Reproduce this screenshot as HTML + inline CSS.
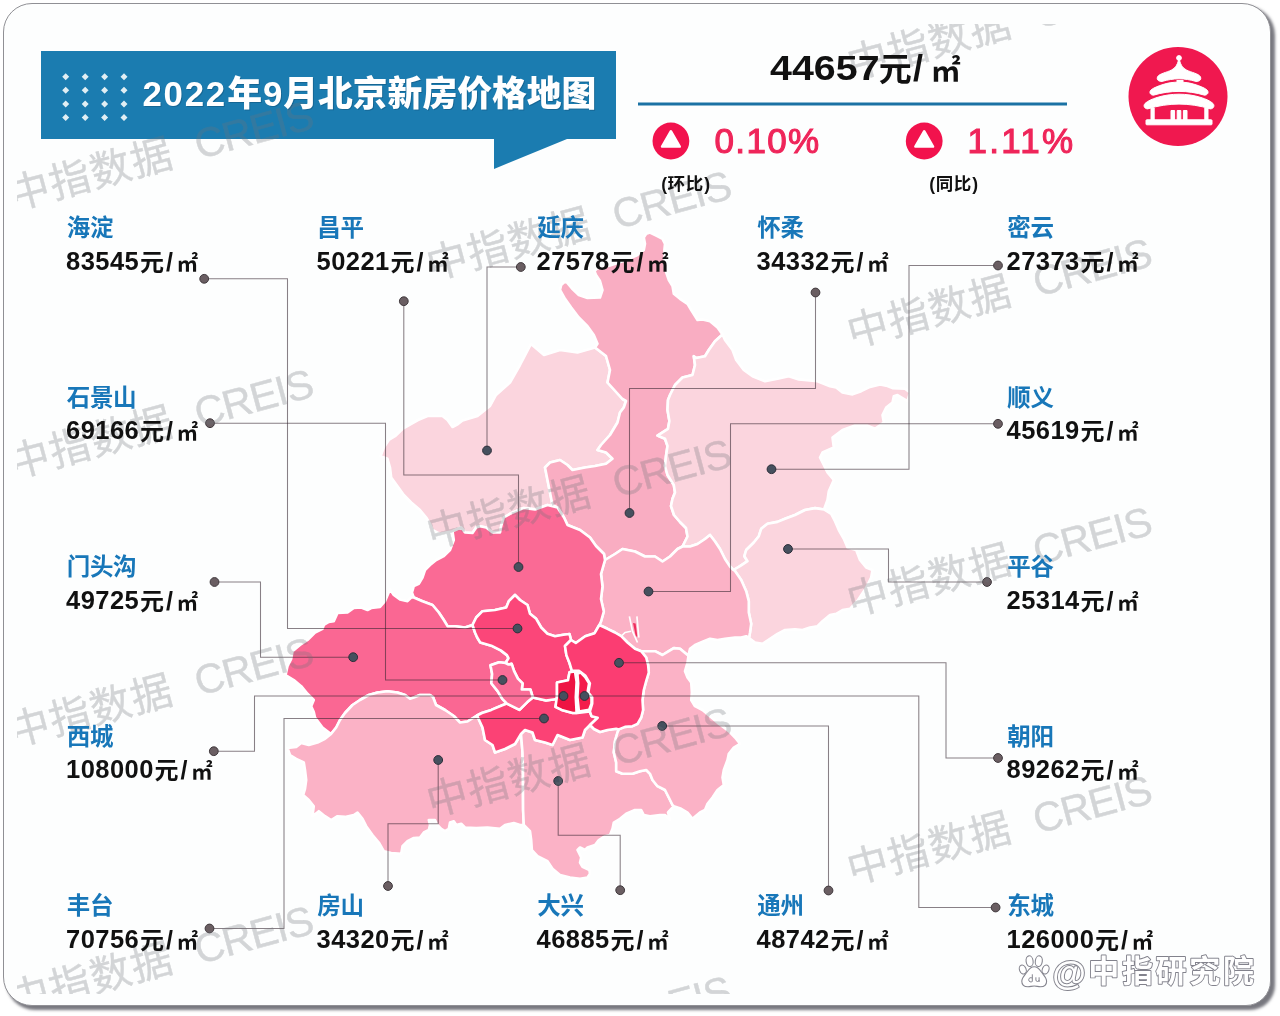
<!DOCTYPE html>
<html lang="zh"><head><meta charset="utf-8"><title>2022年9月北京新房价格地图</title>
<style>
html,body{margin:0;padding:0;background:#fff}
body{width:1280px;height:1016px;position:relative;overflow:hidden;font-family:"Liberation Sans",sans-serif}
.card{position:absolute;left:3.3px;top:3.2px;width:1267.5px;height:1003px;box-sizing:border-box;border:1.5px solid #909095;border-radius:29px 29px 25px 29px;background:#fdfefe;box-shadow:3.6px 3.6px 3px rgba(62,62,72,.7)}
svg.layer{position:absolute;left:0;top:0;width:1280px;height:1016px;overflow:hidden}
svg.layer text{font-family:"Liberation Sans","Noto Sans CJK SC",sans-serif}
.clip{position:absolute;left:16.5px;top:23.5px;width:1247px;height:970.5px;overflow:hidden}
.clip svg.layer{left:-16.5px;top:-23.5px}
.sr{position:absolute;width:1px;height:1px;margin:-1px;padding:0;overflow:hidden;clip:rect(0 0 0 0);white-space:nowrap;border:0;color:transparent}
.soft{position:absolute;left:0;top:0;width:1280px;height:1016px;filter:blur(.45px)}
.pr,.sl,.avg,.pct{position:absolute;white-space:nowrap;font-weight:700;color:#111;line-height:1}
.pr{font-size:25.5px;letter-spacing:.45px}
.sl{font-size:25px}
.avg{font-size:34.5px;letter-spacing:0;transform:scaleX(1.142);transform-origin:0 0}
.pct{font-size:35px;font-weight:400;color:#ef255a;letter-spacing:.9px;-webkit-text-stroke:1.1px #ef255a}
</style></head><body>
<div class="card"></div>
<h1 class="sr">2022年9月北京新房价格地图</h1>
<div class="soft">
<svg class="layer" viewBox="0 0 1280 1016" role="img" aria-label="北京各区新房价格地图"><path d="M41 51H616V139H567L494 169V139H41Z" fill="#1b7cb0"/>
<path d="M65.7 73.3l3.5 3.5l-3.5 3.5l-3.5 -3.5zM85.2 73.3l3.5 3.5l-3.5 3.5l-3.5 -3.5zM104.6 73.3l3.5 3.5l-3.5 3.5l-3.5 -3.5zM124 73.3l3.5 3.5l-3.5 3.5l-3.5 -3.5zM65.7 86.8l3.5 3.5l-3.5 3.5l-3.5 -3.5zM85.2 86.8l3.5 3.5l-3.5 3.5l-3.5 -3.5zM104.6 86.8l3.5 3.5l-3.5 3.5l-3.5 -3.5zM124 86.8l3.5 3.5l-3.5 3.5l-3.5 -3.5zM65.7 100.4l3.5 3.5l-3.5 3.5l-3.5 -3.5zM85.2 100.4l3.5 3.5l-3.5 3.5l-3.5 -3.5zM104.6 100.4l3.5 3.5l-3.5 3.5l-3.5 -3.5zM124 100.4l3.5 3.5l-3.5 3.5l-3.5 -3.5zM65.7 114l3.5 3.5l-3.5 3.5l-3.5 -3.5zM85.2 114l3.5 3.5l-3.5 3.5l-3.5 -3.5zM104.6 114l3.5 3.5l-3.5 3.5l-3.5 -3.5zM124 114l3.5 3.5l-3.5 3.5l-3.5 -3.5z" fill="#e0eef4"/>
<rect x="638" y="102.5" width="429" height="3" fill="#1b72a4"/>
<g stroke="#fff" stroke-width="2.6" stroke-linejoin="round">
<polygon fill="#fbd5de" points="452.5,531.2 440,533.8 432.5,530 430,523.8 426.2,517.5 420,510 411.2,502.5 403.8,495 397.5,486.2 391.2,477.5 390,467.5 387.5,458.8 380.6,456.2 383.8,447.5 388.8,440 395,436.2 403,428.5 410,424.5 418,420 427.5,416 442.5,416 447.5,420 452.5,427 458,424 462.5,420.5 477.5,416 490,406 496,395 510,382.5 520,365 531,344 544,355 560,350 577.5,352.5 595,347.5 606,356 610,370 607.5,382.5 622.5,399 626,401 623.8,407.5 620,412.5 617.5,422.5 610,435 601,445 597.5,450 606,452.5 612.5,458.8 606,463.8 595,466 585,467.5 572.5,470 567.5,465 560,460 550,462.5 545,467.5 547.5,480 550,492.5 552.5,505 557.5,507.5 547.5,505 535,509.4 523.8,508 517.5,510.5 510,513.8 503.8,517.5 501.2,526.2 500,532.5 492.5,532.5 486.2,527.5 480,526.2 476.2,527.5 472.5,533 465,532.5 461.2,527.5"/>
<polygon fill="#f9adc2" points="595,347.5 597.5,343.8 593.8,335 587.5,326.2 578.8,317.5 571.2,307.5 565,298.8 560,290 561.2,285 563.8,282.5 566.5,282 572,288.5 578.8,295 587.5,298 600,297.5 602.5,290 600,281 596,275 594.4,271 597,268.5 610,265.5 625,260.5 637.5,255 643.8,250 645,243.8 643.8,237.5 646.2,233.8 650,232.5 656.2,235.6 662.5,238.8 665,243.8 664.4,250 665,268.8 668.8,280 672.5,286 673.8,293.8 680,298.8 687.5,303.8 691.2,310 697.5,320 702.5,319.4 710,321.2 717.5,327.5 722.5,334.5 715,341.2 708.8,350 705,356.2 696.2,358 693.8,356.2 695,365 692.5,375 682.5,377.5 675,385 670,395 668,400 667.5,410 669.4,421 668,428.8 657.5,435.6 665,438.8 667.5,446 666,456 665,466 667.5,475 673.8,485 675,492.5 672.5,498.8 671,506 674,515 680,522 686,528 687.5,536.5 682.5,546.5 677.5,549 670,556.5 662.5,561.5 655,556.5 645,556.5 635,551.5 622.5,549 615,554 605,560 604,554 596,546 590,537.5 580,530 567.5,525 564,517.5 557.5,507.5 552.5,505 550,492.5 547.5,480 545,467.5 550,462.5 560,460 567.5,465 572.5,470 585,467.5 595,466 606,463.8 612.5,458.8 606,452.5 597.5,450 601,445 610,435 617.5,422.5 620,412.5 623.8,407.5 626,401 622.5,399 607.5,382.5 610,370 606,356"/>
<polygon fill="#fbd5de" points="722.5,334.5 725,340 732.5,350 736.2,360 743.8,370 752.5,376.2 765,381.2 777.5,378.8 788.8,376.2 798.8,379.4 817.5,381.2 830,386.2 836.2,387.5 842.5,392.5 852.5,394.4 861.2,391.2 870,386.9 880,384.4 886.2,385.6 892.5,388.1 905,388.8 910,392.5 907.5,401.2 902.5,398.1 897.5,395 893.8,396.2 892.5,402.5 886.2,407.5 882.5,415 883.8,422.5 875,428.8 867.5,425.6 855,425.6 842.5,430 832.5,437.5 833.8,447.5 822.5,452.5 820,457.5 823.8,465 827.5,472.5 833.8,480 828.8,491.2 827.5,500 824,509.5 815,508.1 805,510 795,515 785,518.8 777.5,521.9 767.5,523.8 761.2,528.8 758.8,536.2 753.8,542.5 746.2,550 744.4,556.2 747.5,561.2 740,566.2 733.5,570 730,566.5 725,559 720,549 715,541.5 710,535 705,539 697.5,544 690,546.5 682.5,546.5 687.5,536.5 686,528 680,522 674,515 671,506 672.5,498.8 675,492.5 673.8,485 667.5,475 665,466 666,456 667.5,446 665,438.8 657.5,435.6 668,428.8 669.4,421 667.5,410 668,400 670,395 675,385 682.5,377.5 692.5,375 695,365 693.8,356.2 696.2,358 705,356.2 708.8,350 715,341.2"/>
<polygon fill="#fbd5de" points="824,509.5 831.2,513.8 835,521.2 838.8,530 843.8,538.8 847.5,547.5 856.2,550 860,560 866.2,567.5 872.5,570 871.2,577.5 866,588 858,600 850,608.8 842.5,610 836.2,613.8 830,615 822.5,621.2 817.5,626.2 810,627.5 802.5,630 795,629.4 785,630 777.5,633.8 770,638.8 762.5,643.8 755,642.5 749,638 750,632.5 751.2,623.8 748.8,612.5 748.8,601.2 746.2,591.2 741.2,580 735,571 733.5,570 740,566.2 747.5,561.2 744.4,556.2 746.2,550 753.8,542.5 758.8,536.2 761.2,528.8 767.5,523.8 777.5,521.9 785,518.8 795,515 805,510 815,508.1"/>
<polygon fill="#fbb2c6" points="749,638 746.2,636.2 741.2,637.5 735,637.5 725,638.8 717.5,640 710,638.8 703.8,641.2 695,645 690,648.8 688.8,653.8 687.5,655 680,648.8 673.8,648.1 668.8,651.2 662.5,655 655,651.2 647.5,651.2 641.2,651.2 635,648.8 627.5,642.5 621.2,636.2 615,632.5 607.5,628.8 599.3,625 601,621.5 603.8,611.5 601,599 602.5,586.5 601,574 605,560 615,554 622.5,549 635,551.5 645,556.5 655,556.5 662.5,561.5 670,556.5 677.5,549 682.5,546.5 690,546.5 697.5,544 705,539 710,535 715,541.5 720,549 725,559 730,566.5 733.5,570 735,571 741.2,580 746.2,591.2 748.8,601.2 748.8,612.5 751.2,623.8 750,632.5"/>
<polygon fill="#fa6a95" points="452.5,531.2 461.2,527.5 465,532.5 472.5,533 476.2,527.5 480,526.2 486.2,527.5 492.5,532.5 500,532.5 501.2,526.2 503.8,517.5 510,513.8 517.5,510.5 523.8,508 535,509.4 547.5,505 557.5,507.5 564,517.5 567.5,525 580,530 590,537.5 596,546 604,554 605,560 601,574 602.5,586.5 601,599 603.8,611.5 601,621.5 599.3,625 594.6,633.2 585.2,636.3 575.8,643 571,640 569.5,634 563.3,634.8 555,636.2 547.5,633.8 541.2,627.5 536.2,618.8 530,613.8 527.5,605 520,600 515,595 508.8,601.2 506.2,607.5 495,610 482.5,611.2 476.2,617.5 472.5,625 465,627.5 455,626.2 447.5,626.2 443.8,620 438.8,612.5 432.5,605 422.5,601.2 413.8,597.5 411.9,592.5 413.8,586.2 418.8,583.8 422.5,577.5 425,570 430,565 436.2,560 443.8,556.2 450,550 453.8,540"/>
<polygon fill="#fa6793" points="331,734 322.5,727.5 315,717.5 313.8,712 311.2,706.2 313.8,700 307.5,693.8 301.2,686.2 293.8,680 285.6,675 287.5,666.2 291.2,658.8 292.5,651.2 300,645 307.5,640 315,632.5 322.5,628.8 323.8,625 328.8,621.9 333.8,621.2 337.5,613 347.5,612.5 353.8,608 361.2,607.5 367.5,610 371.2,608 380,606.9 385,601.2 390,589.4 393.8,595 400,599.5 407.5,601.2 411.2,597.5 413.8,597.5 422.5,601.2 432.5,605 438.8,612.5 443.8,620 447.5,626.2 455,626.2 465,627.5 472.5,625 475,632.5 477.2,637.5 480.3,642.6 491.3,645.7 500.7,650.4 506.9,655.1 508.5,658.2 505.5,663 499.1,662.2 490.5,665.3 492.1,673.9 491.3,683.3 497.6,691.1 502.3,698.9 506.9,703.6 502.3,705.2 491.3,709.9 481.9,713 477,715.5 467.5,721.5 460,722.5 453.8,716 445,710 436,705 433,697 430,695 420,695 413.8,697.5 410,698.8 405,695 397.5,692.5 387.5,691.2 377.5,692.5 368.8,695 360,700 352.5,705 345,713 340,720 336.2,727.5"/>
<polygon fill="#fbb2c6" points="331,734 325,738.8 317.5,742.5 308.8,745 301.2,743 296.2,746.9 287.5,748 290,755 296.2,758.8 303.8,762.5 305,770 306.2,780 305,788.8 303.1,795 308.8,800 313.8,806.2 312.5,816.2 318.8,811.2 325,816.2 331.2,820 337.5,816.2 345,816.9 353.8,815 357.5,812.5 362.5,818.8 366.2,826.2 372.5,835 378.8,842.5 383.8,851.2 391.2,853 401.2,853.8 402.5,846.2 407.5,841.2 413.8,838 420,837.5 423.8,832.5 428.8,830 430,825 428.8,820 435,820 437.5,825 441.2,828.8 445,831.2 448.8,828.8 450,822.5 453.8,821.2 456.2,825 461.2,823.8 465,827.5 476.2,828 487.5,827.5 500,828.8 505,825 513.8,823 520,825 523.8,825 523.1,810 523,790 523,772.5 522.5,752.5 521,734 515,744 505,749 495,752.5 492.5,745 485,740 482.5,727.5 477,715.5 467.5,721.5 460,722.5 453.8,716 445,710 436,705 433,697 430,695 420,695 413.8,697.5 410,698.8 405,695 397.5,692.5 387.5,691.2 377.5,692.5 368.8,695 360,700 352.5,705 345,713 340,720 336.2,727.5"/>
<polygon fill="#fbb2c6" points="521,734 525,730 532.5,732.5 535,740 545,742.5 552.5,745 557.5,735 570,740 582.5,737.5 585,730 590,725 594,729 600,732 607.5,730 616.2,728.8 618.8,729.4 617.5,732.5 615,741.2 613.8,752.5 616.2,762.5 616.2,771.2 622.5,773.8 632.5,773.8 640,771.2 646.2,770 650,773.8 652.5,780 657.5,786.2 665,790 668.8,797.5 672.5,805 673.8,806.2 668,812.5 670,820 665,815 660,815 650,816.2 643.8,815 641.2,810 635,810 626.2,813.8 620,818.8 613.8,822.5 612.5,828.8 610,835 605,836.2 598.8,840 595,845 587.5,847.5 585,850 580,847.5 577.5,850 581.2,857.5 580,862.5 582.5,866.9 589.4,870 590,873.8 587.5,877.5 580,878.8 570,877.5 560,875 552.5,868.8 547.5,861.2 537.5,856.2 531.9,850 531.2,840 530,831.2 523.8,825 523.1,810 523,790 523,772.5 522.5,752.5"/>
<polygon fill="#fbb2c6" points="641.2,651.2 647.5,651.2 655,651.2 662.5,655 668.8,651.2 673.8,648.1 680,648.8 687.5,655 688.8,653.8 687.5,662.5 685,671.2 687.5,677.5 691.2,682.5 691.9,692.5 691.2,700 695,706.2 702.5,710 710,716.2 718.8,723.8 728.8,731.2 735,737.5 740,743.8 733.8,747.5 728.8,753.8 727.5,760 723.8,770 722.5,777.5 723.8,785 717.5,790 712.5,797.5 707.5,803.8 705,810 700,812.5 692.5,818.8 687.5,812.5 681.2,808.8 673.8,806.2 672.5,805 668.8,797.5 665,790 657.5,786.2 652.5,780 650,773.8 646.2,770 640,771.2 632.5,773.8 622.5,773.8 616.2,771.2 616.2,762.5 613.8,752.5 615,741.2 617.5,732.5 618.8,729.4 625,726.9 632.5,726.2 637.5,723.8 641.2,717.5 643.1,710 642.5,700 643.8,690 646.2,681.2 648.8,672.5 648.1,665 646.2,657.5"/>
<polygon fill="#fb4275" points="477,715.5 481.9,713 491.3,709.9 502.3,705.2 506.9,703.6 519.5,709.9 527.3,702.1 532.8,697.4 546,700.5 557,699 555.5,706.8 561.7,709.9 572.7,713 577.4,713 589.9,711.5 591.5,716.2 597.7,717.7 590,725 585,730 582.5,737.5 570,740 557.5,735 552.5,745 545,742.5 535,740 532.5,732.5 525,730 521,734 515,744 505,749 495,752.5 492.5,745 485,740 482.5,727.5"/>
<polygon fill="#fb4679" points="472.5,625 476.2,617.5 482.5,611.2 495,610 506.2,607.5 508.8,601.2 515,595 520,600 527.5,605 530,613.8 536.2,618.8 541.2,627.5 547.5,633.8 555,636.2 563.3,634.8 569.5,634 571,640 565,646 566.4,655.1 569.5,663 571.9,670.8 569.5,672.3 568,680.2 557,682.5 557,695.8 557,699 546,700.5 532.8,697.4 530.4,689.5 521.8,689.5 522.6,683.3 517.9,678.6 514,670.8 511.6,663.7 508.5,664.5 505.5,663 508.5,658.2 506.9,655.1 500.7,650.4 491.3,645.7 480.3,642.6 477.2,637.5 475,632.5"/>
<polygon fill="#fb3d72" points="571,640 575.8,643 585.2,636.3 594.6,633.2 599.3,625 607.5,628.8 615,632.5 621.2,636.2 627.5,642.5 635,648.8 641.2,651.2 646.2,657.5 648.1,665 648.8,672.5 646.2,681.2 643.8,690 642.5,700 643.1,710 641.2,717.5 637.5,723.8 632.5,726.2 625,726.9 618.8,729.4 616.2,728.8 607.5,730 600,732 594,729 590,725 597.7,717.7 591.5,716.2 589.9,711.5 592.2,703.6 592.2,697.4 588.3,692.7 589.9,683.3 585.2,675.5 578.9,670.8 571.9,670.8 569.5,663 566.4,655.1 565,646"/>
<polygon fill="#fa6d97" points="505.5,663 499.1,662.2 490.5,665.3 492.1,673.9 491.3,683.3 497.6,691.1 502.3,698.9 506.9,703.6 519.5,709.9 527.3,702.1 532.8,697.4 530.4,689.5 521.8,689.5 522.6,683.3 517.9,678.6 514,670.8 511.6,663.7 508.5,664.5"/>
<polygon fill="#ee1443" points="557,682.5 568,680.2 569.5,672.3 575,671.5 576.6,681.7 575.8,697.4 576.6,713 572.7,713 561.7,709.9 555.5,706.8 557,695.8"/>
<polygon fill="#f41c4b" points="577.4,673.9 580.5,672.3 585.2,677 589.1,683.3 587.5,692.7 591.5,697.4 591.5,703.6 589.1,709.9 578.9,711.5 577.4,697.4 578.2,683.3"/>
<polygon fill="#ee2f5e" stroke="none" points="633,623 635.6,623.4 637.4,636.5 635.8,636.5"/>
<path fill="none" stroke-width="1.7" d="M629.4 616.3L632.5 631.3L637.5 642.5M636.900 616.300L638.800 637.500M621.250 636.250L625 632.500L631 631.250"/>
</g>
<g fill="none" stroke="#33242f" stroke-opacity=".58" stroke-width="1.05">
<polyline points="204.2,278.8 287.5,278.8 287.5,628.5 517.5,628.5"/>
<polyline points="403.8,301.2 403.8,475 518.5,475 518.5,567"/>
<polyline points="520.8,267 487,267 487,450.5"/>
<polyline points="815.5,292.5 815.5,388.5 629.5,388.5 629.5,513"/>
<polyline points="998,265.5 909,265.5 909,469.2 771.5,469.2"/>
<polyline points="210,423.2 385.5,423.2 385.5,680 502.5,680"/>
<polyline points="998,423.8 730.5,423.8 730.5,591.5 648.5,591.5"/>
<polyline points="214.5,582 260.5,582 260.5,657.2 353.2,657.2"/>
<polyline points="987,582 888.5,582 888.5,549 788,549"/>
<polyline points="213.8,751.2 254.5,751.2 254.5,696 563.5,696"/>
<polyline points="998,758 946,758 946,662.8 619,662.8"/>
<polyline points="209.5,928.5 284,928.5 284,718.5 544,718.5"/>
<polyline points="388,886 388,823.8 438.2,823.8 438.2,760"/>
<polyline points="620.2,890.2 620.2,835.2 558.2,835.2 558.2,781"/>
<polyline points="828.5,890.5 828.5,726 662.2,726"/>
<polyline points="995.6,907.5 918.8,907.5 918.8,696 584.5,696"/>
</g>
<g fill="#6a5e62" stroke="#3f383c" stroke-width="1">
<circle cx="204.2" cy="278.8" r="4.4"/>
<circle cx="403.8" cy="301.2" r="4.4"/>
<circle cx="520.8" cy="267" r="4.4"/>
<circle cx="815.5" cy="292.5" r="4.4"/>
<circle cx="998" cy="265.5" r="4.4"/>
<circle cx="210" cy="423.2" r="4.4"/>
<circle cx="998" cy="423.8" r="4.4"/>
<circle cx="214.5" cy="582" r="4.4"/>
<circle cx="987" cy="582" r="4.4"/>
<circle cx="213.8" cy="751.2" r="4.4"/>
<circle cx="998" cy="758" r="4.4"/>
<circle cx="209.5" cy="928.5" r="4.4"/>
<circle cx="388" cy="886" r="4.4"/>
<circle cx="620.2" cy="890.2" r="4.4"/>
<circle cx="828.5" cy="890.5" r="4.4"/>
<circle cx="995.6" cy="907.5" r="4.4"/>
</g>
<g fill="#46505e" stroke="#2d2f3a" stroke-width="1">
<circle cx="517.5" cy="628.5" r="4.4"/>
<circle cx="518.5" cy="567" r="4.4"/>
<circle cx="487" cy="450.5" r="4.4"/>
<circle cx="629.5" cy="513" r="4.4"/>
<circle cx="771.5" cy="469.2" r="4.4"/>
<circle cx="502.5" cy="680" r="4.4"/>
<circle cx="648.5" cy="591.5" r="4.4"/>
<circle cx="353.2" cy="657.2" r="4.4"/>
<circle cx="788" cy="549" r="4.4"/>
<circle cx="563.5" cy="696" r="4.4"/>
<circle cx="619" cy="662.8" r="4.4"/>
<circle cx="544" cy="718.5" r="4.4"/>
<circle cx="438.2" cy="760" r="4.4"/>
<circle cx="558.2" cy="781" r="4.4"/>
<circle cx="662.2" cy="726" r="4.4"/>
<circle cx="584.5" cy="696" r="4.4"/>
</g></svg>
<div class="clip"><svg class="layer" viewBox="0 0 1280 1016" font-family="Liberation Sans, sans-serif" aria-hidden="true"><g transform="translate(13 209.4) rotate(-15.1)" opacity="0.29"><text x="0" y="0.5" font-size="41" fill="#70747a" stroke="#70747a" stroke-width=".45" letter-spacing="1.2">中指数据</text><text x="192.6" y="0" font-size="41" fill="#70747a" stroke="#70747a" stroke-width=".45" letter-spacing="-1">CREIS</text></g>
<g transform="translate(13 477.7) rotate(-15.1)" opacity="0.29"><text x="0" y="0.5" font-size="41" fill="#70747a" stroke="#70747a" stroke-width=".45" letter-spacing="1.2">中指数据</text><text x="192.6" y="0" font-size="41" fill="#70747a" stroke="#70747a" stroke-width=".45" letter-spacing="-1">CREIS</text></g>
<g transform="translate(13 746) rotate(-15.1)" opacity="0.29"><text x="0" y="0.5" font-size="41" fill="#70747a" stroke="#70747a" stroke-width=".45" letter-spacing="1.2">中指数据</text><text x="192.6" y="0" font-size="41" fill="#70747a" stroke="#70747a" stroke-width=".45" letter-spacing="-1">CREIS</text></g>
<g transform="translate(13 1014.3) rotate(-15.1)" opacity="0.29"><text x="0" y="0.5" font-size="41" fill="#70747a" stroke="#70747a" stroke-width=".45" letter-spacing="1.2">中指数据</text><text x="192.6" y="0" font-size="41" fill="#70747a" stroke="#70747a" stroke-width=".45" letter-spacing="-1">CREIS</text></g>
<g transform="translate(431 279.4) rotate(-15.1)" opacity="0.29"><text x="0" y="0.5" font-size="41" fill="#70747a" stroke="#70747a" stroke-width=".45" letter-spacing="1.2">中指数据</text><text x="192.6" y="0" font-size="41" fill="#70747a" stroke="#70747a" stroke-width=".45" letter-spacing="-1">CREIS</text></g>
<g transform="translate(431 547.7) rotate(-15.1)" opacity="0.29"><text x="0" y="0.5" font-size="41" fill="#70747a" stroke="#70747a" stroke-width=".45" letter-spacing="1.2">中指数据</text><text x="192.6" y="0" font-size="41" fill="#70747a" stroke="#70747a" stroke-width=".45" letter-spacing="-1">CREIS</text></g>
<g transform="translate(431 816) rotate(-15.1)" opacity="0.29"><text x="0" y="0.5" font-size="41" fill="#70747a" stroke="#70747a" stroke-width=".45" letter-spacing="1.2">中指数据</text><text x="192.6" y="0" font-size="41" fill="#70747a" stroke="#70747a" stroke-width=".45" letter-spacing="-1">CREIS</text></g>
<g transform="translate(431 1084.3) rotate(-15.1)" opacity="0.29"><text x="0" y="0.5" font-size="41" fill="#70747a" stroke="#70747a" stroke-width=".45" letter-spacing="1.2">中指数据</text><text x="192.6" y="0" font-size="41" fill="#70747a" stroke="#70747a" stroke-width=".45" letter-spacing="-1">CREIS</text></g>
<g transform="translate(851.5 78.8) rotate(-15.1)" opacity="0.29"><text x="0" y="0.5" font-size="41" fill="#70747a" stroke="#70747a" stroke-width=".45" letter-spacing="1.2">中指数据</text><text x="192.6" y="0" font-size="41" fill="#70747a" stroke="#70747a" stroke-width=".45" letter-spacing="-1">CREIS</text></g>
<g transform="translate(851.5 347) rotate(-15.1)" opacity="0.29"><text x="0" y="0.5" font-size="41" fill="#70747a" stroke="#70747a" stroke-width=".45" letter-spacing="1.2">中指数据</text><text x="192.6" y="0" font-size="41" fill="#70747a" stroke="#70747a" stroke-width=".45" letter-spacing="-1">CREIS</text></g>
<g transform="translate(851.5 615.4) rotate(-15.1)" opacity="0.29"><text x="0" y="0.5" font-size="41" fill="#70747a" stroke="#70747a" stroke-width=".45" letter-spacing="1.2">中指数据</text><text x="192.6" y="0" font-size="41" fill="#70747a" stroke="#70747a" stroke-width=".45" letter-spacing="-1">CREIS</text></g>
<g transform="translate(851.5 883.8) rotate(-15.1)" opacity="0.29"><text x="0" y="0.5" font-size="41" fill="#70747a" stroke="#70747a" stroke-width=".45" letter-spacing="1.2">中指数据</text><text x="192.6" y="0" font-size="41" fill="#70747a" stroke="#70747a" stroke-width=".45" letter-spacing="-1">CREIS</text></g></svg></div>
<svg class="layer" viewBox="0 0 1280 1016"><g transform="translate(1 1.3)" opacity=".32">
<text y="105.8" font-size="34.8" font-weight="900" fill="#0b3a5c"><tspan x="142.4" letter-spacing="1.8">2022</tspan><tspan x="227.2">年</tspan><tspan x="262.9">9</tspan><tspan x="283.2">月北京新房价格地图</tspan></text>
</g>
<text y="105.8" font-size="34.8" font-weight="900" fill="#fff"><tspan x="142.4" letter-spacing="1.8">2022</tspan><tspan x="227.2">年</tspan><tspan x="262.9">9</tspan><tspan x="283.2">月北京新房价格地图</tspan></text>
<g font-weight="700" fill="#1877b9" font-size="23.5" letter-spacing="-0.3">
<text x="66.7" y="236">海淀</text>
<text x="317.2" y="236">昌平</text>
<text x="537.2" y="236">延庆</text>
<text x="757.2" y="236">怀柔</text>
<text x="1007.2" y="236">密云</text>
<text x="66.7" y="405.6">石景山</text>
<text x="1007.2" y="405.6">顺义</text>
<text x="66.7" y="575.1">门头沟</text>
<text x="1007.2" y="575.1">平谷</text>
<text x="66.7" y="744.7">西城</text>
<text x="1007.2" y="744.7">朝阳</text>
<text x="66.7" y="914.2">丰台</text>
<text x="317.2" y="914.2">房山</text>
<text x="537.2" y="914.2">大兴</text>
<text x="757.2" y="914.2">通州</text>
<text x="1007.2" y="914.2">东城</text>
</g>
<g font-weight="700" fill="#111">
<text y="270.6"><tspan x="139.9" font-size="24">元</tspan><tspan x="165.9" font-size="25">/</tspan><tspan x="176.7" font-size="21.3">㎡</tspan></text>
<text y="270.6"><tspan x="390.4" font-size="24">元</tspan><tspan x="416.4" font-size="25">/</tspan><tspan x="427.2" font-size="21.3">㎡</tspan></text>
<text y="270.6"><tspan x="610.4" font-size="24">元</tspan><tspan x="636.4" font-size="25">/</tspan><tspan x="647.2" font-size="21.3">㎡</tspan></text>
<text y="270.6"><tspan x="830.4" font-size="24">元</tspan><tspan x="856.4" font-size="25">/</tspan><tspan x="867.2" font-size="21.3">㎡</tspan></text>
<text y="270.6"><tspan x="1080.4" font-size="24">元</tspan><tspan x="1106.4" font-size="25">/</tspan><tspan x="1117.2" font-size="21.3">㎡</tspan></text>
<text y="440.2"><tspan x="139.9" font-size="24">元</tspan><tspan x="165.9" font-size="25">/</tspan><tspan x="176.7" font-size="21.3">㎡</tspan></text>
<text y="440.2"><tspan x="1080.4" font-size="24">元</tspan><tspan x="1106.4" font-size="25">/</tspan><tspan x="1117.2" font-size="21.3">㎡</tspan></text>
<text y="609.7"><tspan x="139.9" font-size="24">元</tspan><tspan x="165.9" font-size="25">/</tspan><tspan x="176.7" font-size="21.3">㎡</tspan></text>
<text y="609.7"><tspan x="1080.4" font-size="24">元</tspan><tspan x="1106.4" font-size="25">/</tspan><tspan x="1117.2" font-size="21.3">㎡</tspan></text>
<text y="779.3"><tspan x="154.4" font-size="24">元</tspan><tspan x="180.4" font-size="25">/</tspan><tspan x="191.2" font-size="21.3">㎡</tspan></text>
<text y="779.3"><tspan x="1080.4" font-size="24">元</tspan><tspan x="1106.4" font-size="25">/</tspan><tspan x="1117.2" font-size="21.3">㎡</tspan></text>
<text y="948.8"><tspan x="139.9" font-size="24">元</tspan><tspan x="165.9" font-size="25">/</tspan><tspan x="176.7" font-size="21.3">㎡</tspan></text>
<text y="948.8"><tspan x="390.4" font-size="24">元</tspan><tspan x="416.4" font-size="25">/</tspan><tspan x="427.2" font-size="21.3">㎡</tspan></text>
<text y="948.8"><tspan x="610.4" font-size="24">元</tspan><tspan x="636.4" font-size="25">/</tspan><tspan x="647.2" font-size="21.3">㎡</tspan></text>
<text y="948.8"><tspan x="830.4" font-size="24">元</tspan><tspan x="856.4" font-size="25">/</tspan><tspan x="867.2" font-size="21.3">㎡</tspan></text>
<text y="948.8"><tspan x="1094.9" font-size="24">元</tspan><tspan x="1120.9" font-size="25">/</tspan><tspan x="1131.7" font-size="21.3">㎡</tspan></text>
<text y="80.9"><tspan x="878.8" font-size="33">元</tspan><tspan x="913" font-size="36">/</tspan><tspan x="930.9" font-size="29.6">㎡</tspan></text>
<text y="189.8" font-size="17.5"><tspan x="661.2">(</tspan><tspan x="667.6" letter-spacing="0.6">环比</tspan><tspan x="704.2">)</tspan></text>
<text y="190" font-size="17.5"><tspan x="929.3">(</tspan><tspan x="935.7" letter-spacing="0.6">同比</tspan><tspan x="972.3">)</tspan></text>
</g>
<circle cx="670.9" cy="141" r="18.4" fill="#f2124d"/>
<path d="M670.9 131.2L679.8 146.6H662Z" fill="#fff" stroke="#fff" stroke-width="2.4" stroke-linejoin="round"/>
<circle cx="924.2" cy="141" r="18.4" fill="#f2124d"/>
<path d="M924.2 131.2L933.1 146.6H915.3Z" fill="#fff" stroke="#fff" stroke-width="2.4" stroke-linejoin="round"/>
<circle cx="1178" cy="96.5" r="49.5" fill="#f0184f"/>
<g fill="#fff" stroke="#fff" stroke-width="1" stroke-linejoin="round">
<circle cx="1179" cy="58" r="2.4"/>
<path d="M1179 58c1.2 6 3 9.5 7.5 12c5 2.6 12.5 3.6 14 7c1.2 3-1.5 4.6-4.5 4.4c-6-1.6-11-2.6-17-2.6s-11 1-17 2.6c-3 .2-5.700-1.400-4.500-4.400c1.500-3.400 9-4.400 14-7c4.500-2.500 6.300-6 7.500-12z"/>
<path d="M1163 84.500c5-1.600 10.500-2.400 16-2.400s11 .8 16 2.400c4 1.300 9.500 3.200 12 5.500c2.200 2.200.8 5-2.400 5.200c-8.600-2.600-17-3.800-25.600-3.800s-17 1.200-25.600 3.800c-3.200-.2-4.600-3-2.400-5.200c2.500-2.300 8-4.200 12-5.500z"/>
<path d="M1157 97.500c7-2.200 14.500-3.300 22-3.300s15 1.100 22 3.300c4.500 1.400 9.500 3.500 12 6c2 2.300.6 5.200-2.600 5.400c-10.400-3.200-20.800-4.800-31.400-4.800s-21 1.600-31.400 4.800c-3.200-.2-4.600-3.100-2.600-5.400c2.500-2.500 7.500-4.600 12-6z"/>
<rect x="1176.5" y="80" width="7" height="6" stroke="none"/><rect x="1151" y="108" width="3.2" height="12"/><rect x="1204.800" y="108" width="3.200" height="12"/>
<rect x="1171" y="110.500" width="3.600" height="9.500"/><rect x="1177.200" y="110.500" width="3.600" height="9.500"/><rect x="1183.400" y="110.500" width="3.600" height="9.500"/>
<rect x="1146" y="119.800" width="66" height="5" rx=".8"/>
</g>
<text x="1052.3" y="985" font-size="34.5" font-weight="700" fill="#fff" stroke="#82828c" stroke-width="1.93" stroke-linejoin="round" paint-order="stroke">@</text>
<text x="1088.3" y="981.9" font-size="31" font-weight="700" letter-spacing="2.65" fill="#fff" stroke="#82828c" stroke-width="1.86" stroke-linejoin="round" paint-order="stroke">中指研究院</text>
<g fill="#fff" stroke="#85858f" stroke-width="1.1" stroke-linejoin="round">
<ellipse cx="1029.6" cy="961.2" rx="3.5" ry="5.4" transform="rotate(-8 1029.6 961.2)"/><ellipse cx="1038.800" cy="961.200" rx="3.500" ry="5.400" transform="rotate(8 1038.800 961.200)"/>
<ellipse cx="1022.800" cy="969.600" rx="3.300" ry="4.600" transform="rotate(-22 1022.800 969.600)"/><ellipse cx="1045.600" cy="969.600" rx="3.300" ry="4.600" transform="rotate(22 1045.600 969.600)"/>
<path d="M1034.2 966.8c3.2 0 5.2 2.200 7 5c2 3 5.400 5.400 5.400 9.400c0 3.800-2.800 5.600-6.200 5.600c-2.200 0-4-.8-6.200-.8s-4 .8-6.200.8c-3.400 0-6.200-1.800-6.200-5.600c0-4 3.400-6.400 5.400-9.400c1.800-2.800 3.800-5 7-5z"/>
<path d="M1032.300 974.300v7.200M1032.300 981.500c-1.200.8-3.600.6-3.600-1.700s2.400-2.500 3.600-1.700M1035.900 977.300v2.700c0 2 3.200 2 3.200 0v-2.700M1039.100 982v-2" fill="none" stroke-width="1"/>
</g></svg>
<div class="pr" style="left:66.1px;top:248.7px"><span class="sr">海淀 </span>83545<span class="sr">元/㎡</span></div>
<div class="pr" style="left:316.6px;top:248.7px"><span class="sr">昌平 </span>50221<span class="sr">元/㎡</span></div>
<div class="pr" style="left:536.6px;top:248.7px"><span class="sr">延庆 </span>27578<span class="sr">元/㎡</span></div>
<div class="pr" style="left:756.6px;top:248.7px"><span class="sr">怀柔 </span>34332<span class="sr">元/㎡</span></div>
<div class="pr" style="left:1006.6px;top:248.7px"><span class="sr">密云 </span>27373<span class="sr">元/㎡</span></div>
<div class="pr" style="left:66.1px;top:418.3px"><span class="sr">石景山 </span>69166<span class="sr">元/㎡</span></div>
<div class="pr" style="left:1006.6px;top:418.3px"><span class="sr">顺义 </span>45619<span class="sr">元/㎡</span></div>
<div class="pr" style="left:66.1px;top:587.8px"><span class="sr">门头沟 </span>49725<span class="sr">元/㎡</span></div>
<div class="pr" style="left:1006.6px;top:587.8px"><span class="sr">平谷 </span>25314<span class="sr">元/㎡</span></div>
<div class="pr" style="left:66.1px;top:757.4px"><span class="sr">西城 </span>108000<span class="sr">元/㎡</span></div>
<div class="pr" style="left:1006.6px;top:757.4px"><span class="sr">朝阳 </span>89262<span class="sr">元/㎡</span></div>
<div class="pr" style="left:66.1px;top:926.9px"><span class="sr">丰台 </span>70756<span class="sr">元/㎡</span></div>
<div class="pr" style="left:316.6px;top:926.9px"><span class="sr">房山 </span>34320<span class="sr">元/㎡</span></div>
<div class="pr" style="left:536.6px;top:926.9px"><span class="sr">大兴 </span>46885<span class="sr">元/㎡</span></div>
<div class="pr" style="left:756.6px;top:926.9px"><span class="sr">通州 </span>48742<span class="sr">元/㎡</span></div>
<div class="pr" style="left:1006.6px;top:926.9px"><span class="sr">东城 </span>126000<span class="sr">元/㎡</span></div>
<div class="avg" style="left:770.4px;top:51.3px">44657<span class="sr">元/㎡</span></div>
<div class="pct" style="left:714.4px;top:123.2px;letter-spacing:1.4px">0.10%<span class="sr"> (环比)</span></div>
<div class="pct" style="left:967.6px;top:123.2px;letter-spacing:2.2px">1.11%<span class="sr"> (同比)</span></div>
<span class="sr">@中指研究院</span>
</div>
</body></html>
